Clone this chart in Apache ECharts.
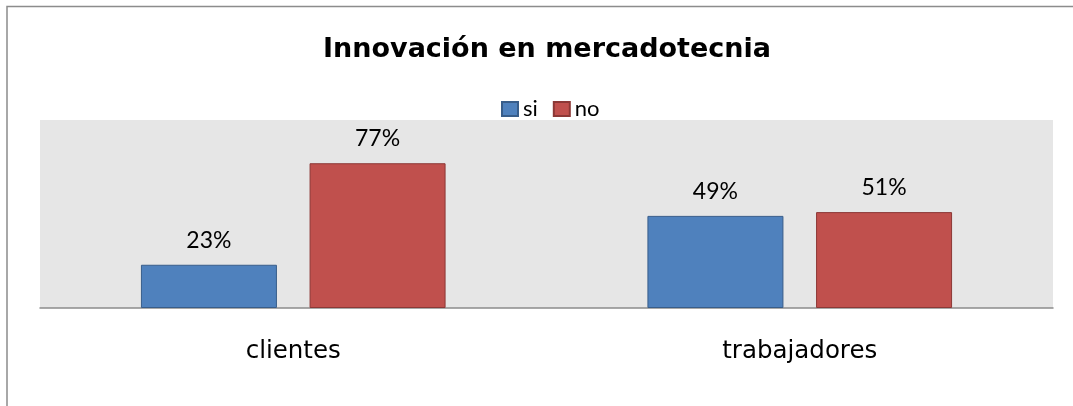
<!DOCTYPE html>
<html>
<head>
<meta charset="utf-8">
<script src="https://cdn.jsdelivr.net/npm/echarts@6/dist/echarts.min.js"></script>
<style>
  html, body { margin: 0; padding: 0; background: #fff; }
  #chart { width: 1073px; height: 406px; }
</style>
</head>
<body>
<div id="chart"></div>
<script>
// datos
const titleText = 'Innovación en mercadotecnia'
const categories = ['clientes', 'trabajadores']
const seriesNames = ['si', 'no']
const siValues = [23, 49]
const noValues = [77, 51]

const chart = echarts.init(document.getElementById('chart'))

const option = {
  backgroundColor: '#fff',
  animation: false,
  title: {
    text: titleText,
    left: 323,
    top: 36,
    padding: 0,
    textStyle: {
      fontFamily: 'DejaVu Sans',
      fontWeight: 'bold',
      fontSize: 27,
      color: '#000'
    }
  },
  legend: {
    data: seriesNames,
    left: 501,
    top: 98,
    padding: 0,
    itemWidth: 16,
    itemHeight: 14,
    itemGap: 15,
    icon: 'rect',
    textStyle: {
      fontFamily: 'Lato',
      fontSize: 22,
      color: '#000'
    }
  },
  graphic: [
    {
      // marco del grafico (solo se ven el borde izquierdo y el superior)
      type: 'polyline',
      silent: true,
      shape: { points: [[7, 1000], [7, 6.5], [2000, 6.5]] },
      style: { fill: 'none', stroke: '#8c8c8c', lineWidth: 1.5 }
    }
  ],
  grid: {
    left: 40,
    right: 20,
    top: 120,
    bottom: 98,
    show: true,
    backgroundColor: '#e6e6e6',
    borderWidth: 0
  },
  xAxis: {
    type: 'category',
    data: categories,
    axisLine: { lineStyle: { color: '#8c8c8c', width: 1.5 } },
    axisTick: { show: false },
    axisLabel: {
      margin: 31,
      fontFamily: 'DejaVu Sans',
      fontSize: 24.5,
      color: '#000'
    }
  },
  yAxis: {
    type: 'value',
    min: 0,
    max: 100,
    show: false,
    splitLine: { show: false }
  },
  series: [
    {
      name: seriesNames[0],
      type: 'bar',
      data: siValues,
      barWidth: 136,
      barGap: '24%',
      itemStyle: { color: '#4f81bd', borderColor: '#385d8a', borderWidth: 1 },
      label: {
        show: true,
        position: 'top',
        distance: 13,
        formatter: '{c}%',
        fontFamily: 'Lato',
        fontSize: 23,
        color: '#000'
      }
    },
    {
      name: seriesNames[1],
      type: 'bar',
      data: noValues,
      barWidth: 136,
      barGap: '24%',
      itemStyle: { color: '#c0504d', borderColor: '#8c3836', borderWidth: 1 },
      label: {
        show: true,
        position: 'top',
        distance: 13,
        formatter: '{c}%',
        fontFamily: 'Lato',
        fontSize: 23,
        color: '#000'
      }
    }
  ]
}

chart.setOption(option)
</script>
</body>
</html>
